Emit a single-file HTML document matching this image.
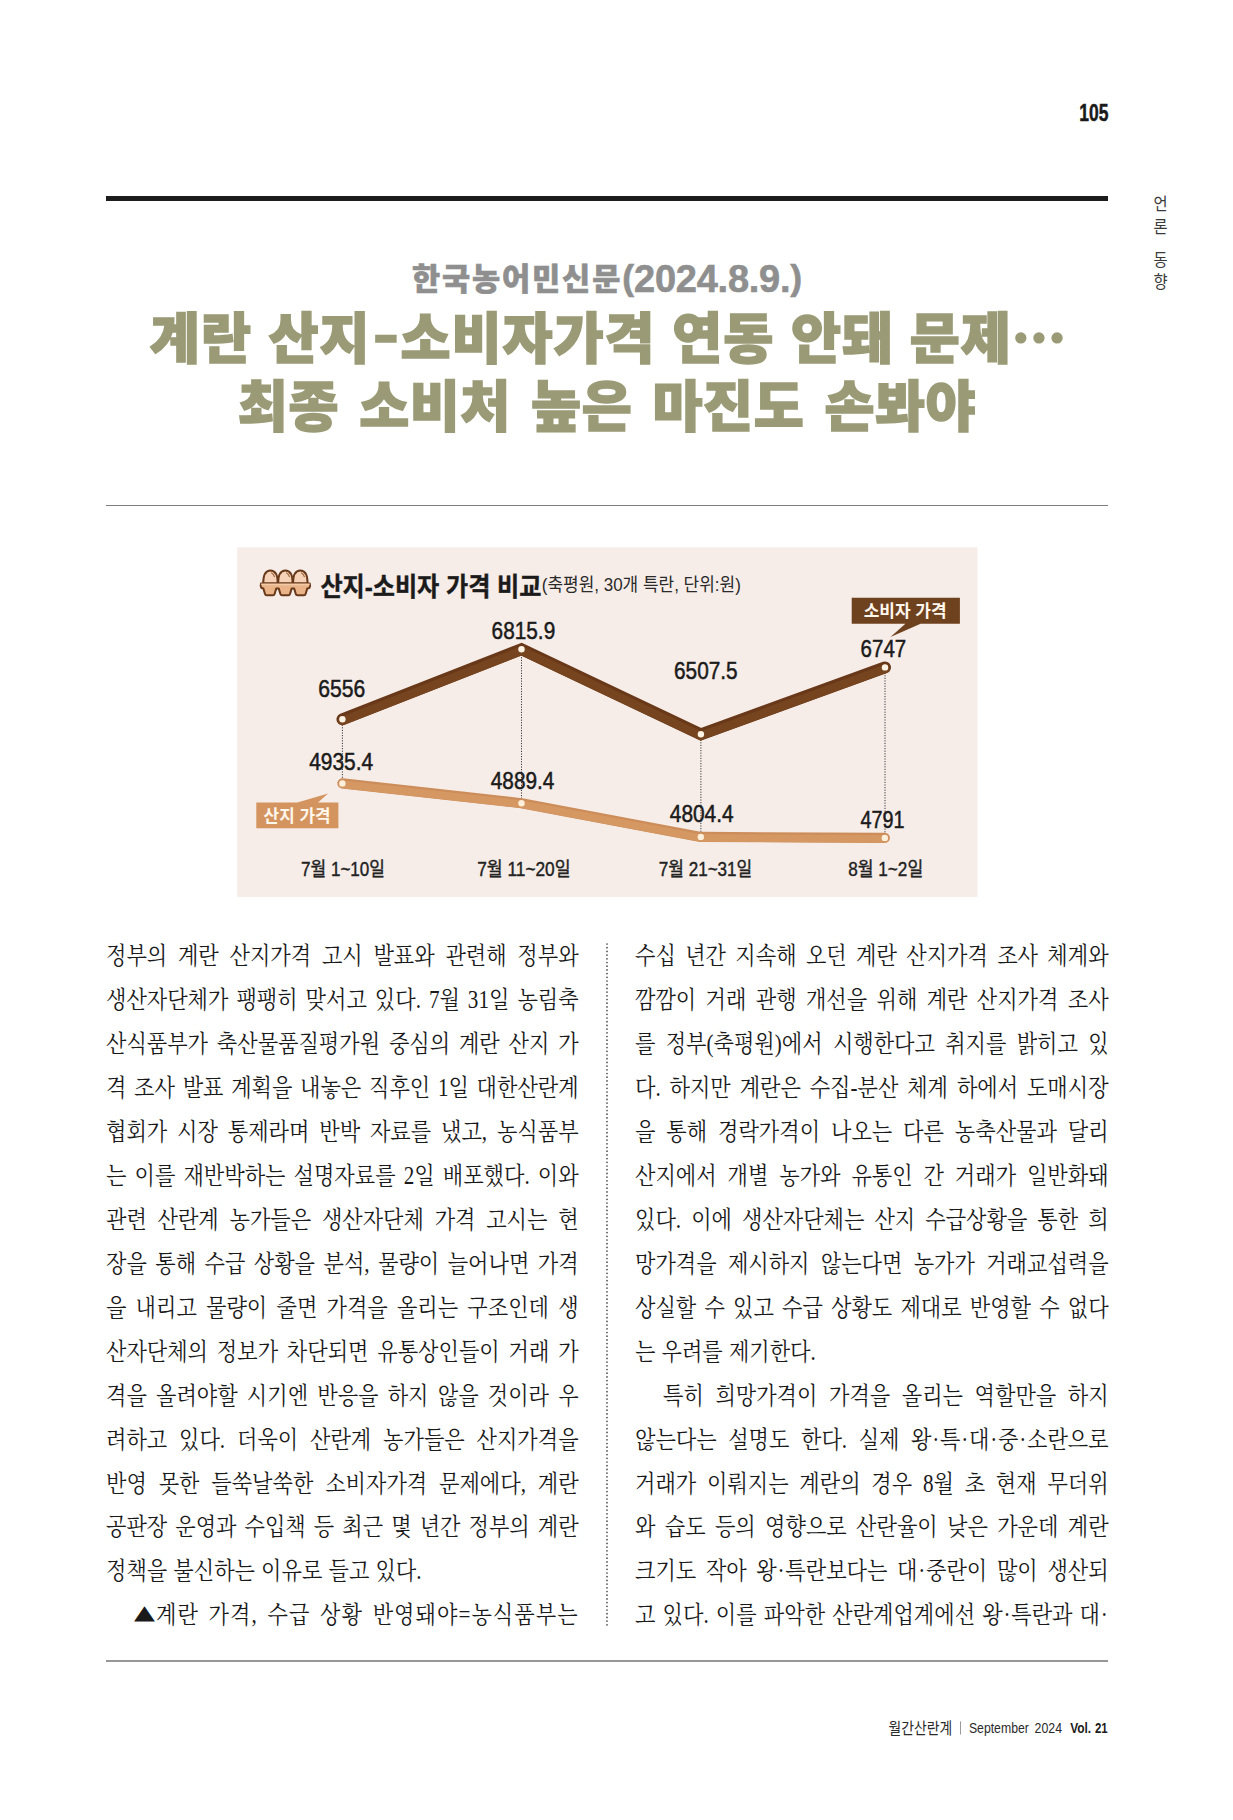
<!DOCTYPE html>
<html lang="ko">
<head>
<meta charset="utf-8">
<title>계란 산지-소비자가격 연동 안돼 문제</title>
<style>
html,body{margin:0;padding:0;background:#fff}
body{width:1233px;height:1820px;position:relative;overflow:hidden;font-family:"Liberation Sans","Noto Sans CJK KR",sans-serif}
.abs{position:absolute;white-space:nowrap}
.pageno{right:124.5px;top:98px;font:700 23px/30px "Liberation Sans",sans-serif;color:#1a1a1a;-webkit-text-stroke:.5px #1a1a1a;transform:scaleX(.76);transform-origin:100% 50%}
.rule-thick{left:106px;top:196px;width:1002px;height:5px;background:#1c1c1c}
.rule-thin{left:106px;width:1002px;height:1.4px;background:#8a8a8a}
.side{left:1150px;width:21px;text-align:center;transform:scaleX(.9);font:400 17px/17px "Liberation Sans","Noto Sans CJK KR",sans-serif;color:#3a3a3a}
.sub{left:0;width:1214px;text-align:center;top:255.2px;font:900 30.6px/48px "Liberation Sans","Noto Sans CJK KR",sans-serif;color:#8f8f8f;letter-spacing:1.9px;-webkit-text-stroke:.6px #8f8f8f}
.sub i{font-style:normal;font-weight:700;font-size:35.5px;letter-spacing:0;line-height:0;position:relative;top:-.5px}
.sub b{font-weight:700;font-size:38px;position:relative;top:2.6px;letter-spacing:-.25px}
.ttl{left:0;width:1214px;text-align:center;-webkit-text-stroke:1.5px #9a9b76;font:900 54.4px/70px "Liberation Sans","Noto Sans CJK KR",sans-serif;color:#9a9b76}
.ttl span{display:inline-block;letter-spacing:.55px;word-spacing:4.5px}
.ttl em{font-style:normal;display:inline-block;transform:translateY(-4.7px) scaleX(1.4);margin:0 4px 0 6.7px}
.ttl i{font-style:normal;line-height:0;font-family:"Noto Sans CJK KR","Noto Sans CJK SC",sans-serif}
svg text{font-family:"Liberation Sans","Noto Sans CJK KR",sans-serif}
.ln{position:absolute;white-space:nowrap;font:400 24.4px/40px "Liberation Serif","Noto Serif CJK KR","Noto Serif CJK SC",serif;color:#1a1a1a;transform:scaleX(0.866);transform-origin:0 0;text-align:justify;text-align-last:justify;letter-spacing:0}
.tri{position:absolute;font:400 20px/24px "DejaVu Sans",sans-serif;color:#1a1a1a;transform:scaleX(1.36);transform-origin:0 0}
.ln i{font-style:normal;margin:0 .9px}
.ln.last{text-align:left;text-align-last:left;word-spacing:1px}
</style>
</head>
<body>
<div class="abs pageno">105</div>
<div class="abs rule-thick"></div>
<div class="abs side" style="top:196.4px">언</div>
<div class="abs side" style="top:219.4px">론</div>
<div class="abs side" style="top:251.6px">동</div>
<div class="abs side" style="top:273.8px">향</div>

<div class="abs sub">한국농어민신문<i>(<b>2024.8.9.</b>)</i></div>
<div class="abs ttl" style="top:305px"><span style="letter-spacing:1px;word-spacing:.5px;margin-left:3px">계란 산지<em>-</em>소비자가격 연동 안돼 문제<i>…</i></span></div>
<div class="abs ttl" style="top:372.8px"><span>최종 소비처 높은 마진도 손봐야</span></div>
<div class="abs rule-thin" style="top:504.7px;height:1.2px;background:#7d7d7d"></div>

<svg class="abs" style="left:0;top:0" width="1233" height="1820" viewBox="0 0 1233 1820">
<rect x="237.3" y="547.3" width="740.2" height="349.6" fill="#f6ede8"/>
<!-- egg carton icon -->
<g stroke="#68391a" stroke-width="2" stroke-linejoin="round" stroke-linecap="round">
<path d="M263.2 583.5 C263.2 575 266 570.5 270.4 570.5 C274.8 570.5 277.8 575 277.8 583.5 Z" fill="#f6d3b8"/>
<path d="M278.1 583.5 C278.1 575 281 570.5 285.4 570.5 C289.8 570.5 292.7 575 292.7 583.5 Z" fill="#f6d3b8"/>
<path d="M293 583.5 C293 575 295.9 570.5 300.3 570.5 C304.7 570.5 307.6 575 307.6 583.5 Z" fill="#f6d3b8"/>
<path d="M261 583.6 H309.8 Q310.6 586 309.4 588 L307.3 588.4 L305.6 594 Q305.2 595.3 304 595.3 H297.4 Q296.2 595.3 295.8 594 L294.2 588.6 H291.6 L290 594 Q289.6 595.3 288.4 595.3 H282 Q280.8 595.3 280.4 594 L278.8 588.6 H276.2 L274.6 594 Q274.2 595.3 273 595.3 H266.6 Q265.4 595.3 265 594 L263.4 588.4 L261.4 588 Q260.2 586 261 583.6 Z" fill="#eab488"/>
<path d="M261 583.6 H309.8 L309.6 585.3 H261.2 Z" fill="#f3c9a6" stroke="none"/>
</g>
<g stroke="#a06a40" stroke-width="1.2" fill="none" stroke-linecap="round">
<path d="M271.6 573 Q273.6 574 274.4 576.6"/>
<path d="M286.6 573 Q288.6 574 289.4 576.6"/>
<path d="M301.5 573 Q303.5 574 304.3 576.6"/>
</g>
<!-- chart heading -->
<text x="320.4" y="596" font-size="25.8" font-weight="700" fill="#1b1b1b" stroke="#1b1b1b" stroke-width="0.4" textLength="221" lengthAdjust="spacingAndGlyphs">산지-소비자 가격 비교</text>
<text x="541.8" y="590.6" font-size="18.4" font-weight="400" fill="#2a2a2a" textLength="199" lengthAdjust="spacingAndGlyphs">(축평원, 30개 특란, 단위:원)</text>
<!-- dotted guides -->
<g stroke="#3a3a3a" stroke-width="1" stroke-dasharray="1.2 1.4" fill="none">
<path d="M342.4 722 V781"/>
<path d="M521.5 652 V801"/>
<path d="M700.9 737 V834"/>
<path d="M885 670 V835"/>
</g>
<!-- consumer price line -->
<polyline points="342.4,719.3 521.5,649.2 700.9,734.3 885,667.4" fill="none" stroke="#683819" stroke-width="11.9" stroke-linejoin="miter" stroke-linecap="round"/>
<polyline points="342.4,720.9 521.5,650.8 700.9,735.9 885,669" fill="none" stroke="#76451f" stroke-width="8.6" stroke-linejoin="miter" stroke-linecap="round"/>
<!-- farm-gate price line -->
<polyline points="342.4,783.4 521.5,803.2 700.8,836.9 884.8,837.9" fill="none" stroke="#cc8d5a" stroke-width="10.2" stroke-linejoin="round" stroke-linecap="round"/>
<polyline points="342.4,784.4 521.5,804.2 700.8,837.9 884.8,838.9" fill="none" stroke="#d69863" stroke-width="7.6" stroke-linejoin="round" stroke-linecap="round"/>
<g fill="#fff3e4" stroke="none">
<circle cx="342.4" cy="719.3" r="3.2"/><circle cx="521.5" cy="649.2" r="3.2"/><circle cx="700.9" cy="734.3" r="3.2"/><circle cx="885" cy="667.4" r="3.2"/>
</g>
<g fill="#fff0dc" stroke="none">
<circle cx="342.4" cy="783.4" r="3.2"/><circle cx="521.5" cy="803.2" r="3.2"/><circle cx="700.8" cy="836.9" r="3.2"/><circle cx="884.8" cy="837.9" r="3.2"/>
</g>
<!-- legend tags -->
<path d="M851.7 597.8 H959.9 V623.7 H920.6 L890.5 637.1 L905.4 623.7 H851.7 Z" fill="#6f421f"/>
<text x="905.2" y="617.4" font-size="17.6" font-weight="700" fill="#fff6ec" text-anchor="middle" textLength="83" lengthAdjust="spacingAndGlyphs">소비자 가격</text>
<path d="M256.3 802.4 H297.3 L328.1 793.4 L318 802.4 H338.4 V828.2 H256.3 Z" fill="#d4945f"/>
<text x="297.1" y="821.9" font-size="17.6" font-weight="700" fill="#fff6ec" text-anchor="middle" textLength="67" lengthAdjust="spacingAndGlyphs">산지 가격</text>
<!-- values -->
<g font-size="23.4" fill="#1b1b1b" stroke="#1b1b1b" stroke-width="0.5">
<text x="318.2" y="697.2" textLength="47" lengthAdjust="spacingAndGlyphs">6556</text>
<text x="491.6" y="639.4" textLength="63.6" lengthAdjust="spacingAndGlyphs">6815.9</text>
<text x="674" y="679.4" textLength="63.6" lengthAdjust="spacingAndGlyphs">6507.5</text>
<text x="860.6" y="656.6" textLength="45.6" lengthAdjust="spacingAndGlyphs">6747</text>
<text x="309.2" y="769.7" textLength="64" lengthAdjust="spacingAndGlyphs">4935.4</text>
<text x="490.8" y="789.2" textLength="63.6" lengthAdjust="spacingAndGlyphs">4889.4</text>
<text x="669.8" y="821.7" textLength="63.8" lengthAdjust="spacingAndGlyphs">4804.4</text>
<text x="860.6" y="827.5" textLength="44" lengthAdjust="spacingAndGlyphs">4791</text>
</g>
<!-- x axis -->
<g font-size="19.4" fill="#222" stroke="#222" stroke-width="0.4">
<text x="301" y="875.8" textLength="84" lengthAdjust="spacingAndGlyphs">7월 1~10일</text>
<text x="477.2" y="875.8" textLength="93.4" lengthAdjust="spacingAndGlyphs">7월 11~20일</text>
<text x="658.8" y="875.8" textLength="93.4" lengthAdjust="spacingAndGlyphs">7월 21~31일</text>
<text x="848.2" y="875.8" textLength="75" lengthAdjust="spacingAndGlyphs">8월 1~2일</text>
</g>
<!-- column divider -->
<path d="M607 944 V1626.5" stroke="#4a4a4a" stroke-width="1.7" stroke-dasharray="0 3.7" stroke-linecap="round" fill="none"/>
<!-- footer -->
<text x="888.6" y="1733.8" font-size="16.4" font-weight="400" fill="#2a2a2a" textLength="63.6" lengthAdjust="spacingAndGlyphs">월간산란계</text>
<path d="M960.5 1721.4 V1734.6" stroke="#9a9a9a" stroke-width="1" fill="none"/>
<text x="968.9" y="1733.3" font-size="15" font-weight="400" fill="#2a2a2a" textLength="60" lengthAdjust="spacingAndGlyphs">September</text>
<text x="1034.6" y="1733.3" font-size="15" font-weight="400" fill="#2a2a2a" textLength="27.4" lengthAdjust="spacingAndGlyphs">2024</text>
<text x="1070.2" y="1733.3" font-size="15" font-weight="700" fill="#1c1c1c" textLength="21" lengthAdjust="spacingAndGlyphs">Vol.</text>
<text x="1095" y="1733.3" font-size="15" font-weight="700" fill="#1c1c1c" textLength="12.7" lengthAdjust="spacingAndGlyphs">21</text>
</svg>


<div class="ln" style="left:106.00px;top:936.40px;width:545.73px">정부의 계란 산지가격 고시 발표와 관련해 정부와</div>
<div class="ln" style="left:106.00px;top:980.33px;width:545.73px">생산자단체가 팽팽히 맞서고 있다. 7월 31일 농림축</div>
<div class="ln" style="left:106.00px;top:1024.26px;width:545.73px">산식품부가 축산물품질평가원 중심의 계란 산지 가</div>
<div class="ln" style="left:106.00px;top:1068.19px;width:545.73px">격 조사 발표 계획을 내놓은 직후인 1일 대한산란계</div>
<div class="ln" style="left:106.00px;top:1112.12px;width:545.73px">협회가 시장 통제라며 반박 자료를 냈고, 농식품부</div>
<div class="ln" style="left:106.00px;top:1156.05px;width:545.73px">는 이를 재반박하는 설명자료를 2일 배포했다. 이와</div>
<div class="ln" style="left:106.00px;top:1199.98px;width:545.73px">관련 산란계 농가들은 생산자단체 가격 고시는 현</div>
<div class="ln" style="left:106.00px;top:1243.91px;width:545.73px">장을 통해 수급 상황을 분석, 물량이 늘어나면 가격</div>
<div class="ln" style="left:106.00px;top:1287.84px;width:545.73px">을 내리고 물량이 줄면 가격을 올리는 구조인데 생</div>
<div class="ln" style="left:106.00px;top:1331.77px;width:545.73px">산자단체의 정보가 차단되면 유통상인들이 거래 가</div>
<div class="ln" style="left:106.00px;top:1375.70px;width:545.73px">격을 올려야할 시기엔 반응을 하지 않을 것이라 우</div>
<div class="ln" style="left:106.00px;top:1419.63px;width:545.73px">려하고 있다. 더욱이 산란계 농가들은 산지가격을</div>
<div class="ln" style="left:106.00px;top:1463.56px;width:545.73px">반영 못한 들쑥날쑥한 소비자가격 문제에다, 계란</div>
<div class="ln" style="left:106.00px;top:1507.49px;width:545.73px">공판장 운영과 수입책 등 최근 몇 년간 정부의 계란</div>
<div class="ln last" style="left:106.00px;top:1551.42px;width:545.73px">정책을 불신하는 이유로 들고 있다.</div>
<div class="tri" style="left:134.40px;top:1600.05px">▲</div>
<div class="ln" style="left:156.00px;top:1595.35px;width:487.99px;letter-spacing:1.2px">계란 가격, 수급 상황 반영돼야=농식품부는</div>
<div class="ln" style="left:634.80px;top:936.40px;width:546.88px">수십 년간 지속해 오던 계란 산지가격 조사 체계와</div>
<div class="ln" style="left:634.80px;top:980.33px;width:546.88px">깜깜이 거래 관행 개선을 위해 계란 산지가격 조사</div>
<div class="ln" style="left:634.80px;top:1024.26px;width:546.88px">를 정부(축평원)에서 시행한다고 취지를 밝히고 있</div>
<div class="ln" style="left:634.80px;top:1068.19px;width:546.88px">다. 하지만 계란은 수집-분산 체계 하에서 도매시장</div>
<div class="ln" style="left:634.80px;top:1112.12px;width:546.88px">을 통해 경락가격이 나오는 다른 농축산물과 달리</div>
<div class="ln" style="left:634.80px;top:1156.05px;width:546.88px">산지에서 개별 농가와 유통인 간 거래가 일반화돼</div>
<div class="ln" style="left:634.80px;top:1199.98px;width:546.88px">있다. 이에 생산자단체는 산지 수급상황을 통한 희</div>
<div class="ln" style="left:634.80px;top:1243.91px;width:546.88px">망가격을 제시하지 않는다면 농가가 거래교섭력을</div>
<div class="ln" style="left:634.80px;top:1287.84px;width:546.88px">상실할 수 있고 수급 상황도 제대로 반영할 수 없다</div>
<div class="ln last" style="left:634.80px;top:1331.77px;width:546.88px">는 우려를 제기한다.</div>
<div class="ln" style="left:662.80px;top:1375.70px;width:514.55px">특히 희망가격이 가격을 올리는 역할만을 하지</div>
<div class="ln" style="left:634.80px;top:1419.63px;width:546.88px">않는다는 설명도 한다. 실제 왕<i>·</i>특<i>·</i>대<i>·</i>중<i>·</i>소란으로</div>
<div class="ln" style="left:634.80px;top:1463.56px;width:546.88px">거래가 이뤄지는 계란의 경우 8월 초 현재 무더위</div>
<div class="ln" style="left:634.80px;top:1507.49px;width:546.88px">와 습도 등의 영향으로 산란율이 낮은 가운데 계란</div>
<div class="ln" style="left:634.80px;top:1551.42px;width:546.88px">크기도 작아 왕<i>·</i>특란보다는 대<i>·</i>중란이 많이 생산되</div>
<div class="ln" style="left:634.80px;top:1595.35px;width:546.88px">고 있다. 이를 파악한 산란계업계에선 왕<i>·</i>특란과 대<i>·</i></div>

<div class="abs rule-thin" style="top:1660.2px;height:1.4px;background:#979797"></div>
</body>
</html>
